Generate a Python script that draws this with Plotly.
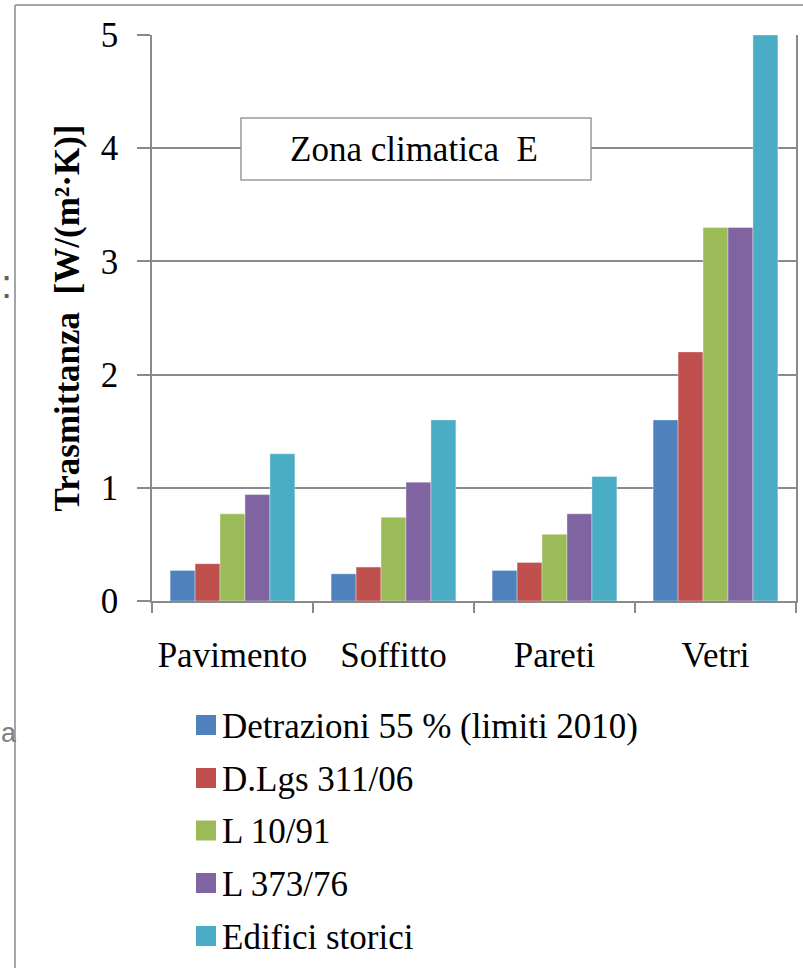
import plotly.graph_objects as go

# Thermal transmittance limits by building element, climate zone E
categories = ["Pavimento", "Soffitto", "Pareti", "Vetri"]
series_names = [
    "Detrazioni 55 % (limiti 2010)",
    "D.Lgs 311/06",
    "L 10/91",
    "L 373/76",
    "Edifici storici",
]
detrazioni_55 = [0.27, 0.24, 0.27, 1.6]
dlgs_311_06 = [0.33, 0.30, 0.34, 2.2]
legge_10_91 = [0.77, 0.74, 0.59, 3.3]
legge_373_76 = [0.94, 1.05, 0.77, 3.3]
edifici_storici = [1.3, 1.6, 1.1, 5.0]
y_ticks = [0, 1, 2, 3, 4, 5]

series_values = [detrazioni_55, dlgs_311_06, legge_10_91, legge_373_76, edifici_storici]
colors = ["#4F81BD", "#C0504D", "#9BBB59", "#8064A2", "#4BACC6"]

W, H = 803, 968
PL, PR, PT, PB = 152, 796, 35, 601  # plot-area edges in pixels
SERIF = "Liberation Serif, Times New Roman, serif"
SANS = "Liberation Sans, Arial, sans-serif"
GRID = "#8a8a8a"


def px(x):
    return (x - PL) / (PR - PL)


def py(y):
    return (PB - y) / (PB - PT)


fig = go.Figure()
for name, vals, col in zip(series_names, series_values, colors):
    fig.add_trace(go.Bar(
        x=categories, y=vals, name=name, showlegend=False,
        marker=dict(color=col, line=dict(color="rgba(255,255,255,0.35)", width=1)),
    ))

shapes = []
annotations = []

# outer frame (top and left edges)
shapes.append(dict(type="line", xref="paper", yref="paper",
                   x0=px(15), x1=px(15), y0=py(5), y1=py(H + 5),
                   line=dict(color="#a6a6a6", width=2), layer="above"))
shapes.append(dict(type="line", xref="paper", yref="paper",
                   x0=px(15), x1=px(W + 5), y0=py(5), y1=py(5),
                   line=dict(color="#a6a6a6", width=2), layer="above"))

# zone label box
shapes.append(dict(type="rect", xref="paper", yref="paper",
                   x0=px(241), x1=px(591), y0=py(180), y1=py(118),
                   fillcolor="white", line=dict(color="#9a9a9a", width=1.5), layer="above"))
annotations.append(dict(xref="paper", yref="paper", x=px(414), y=py(149),
                        text="Zona climatica\u00a0\u00a0E", showarrow=False,
                        xanchor="center", yanchor="middle",
                        font=dict(family=SERIF, size=35, color="black")))

# legend drawn below the chart
row_centers = [725, 778, 830.5, 883, 936]
for name, col, cy in zip(series_names, colors, row_centers):
    shapes.append(dict(type="rect", xref="paper", yref="paper",
                       x0=px(196), x1=px(216), y0=py(cy + 10), y1=py(cy - 10),
                       fillcolor=col, line=dict(color=col, width=0), layer="above"))
    annotations.append(dict(xref="paper", yref="paper", x=px(220), y=py(cy + 1),
                            text=name, showarrow=False, xanchor="left", yanchor="middle",
                            font=dict(family=SERIF, size=35, color="black")))

# fragments of surrounding text at the left edge
annotations.append(dict(xref="paper", yref="paper", x=px(0), y=py(733),
                        text="a", showarrow=False, xanchor="left", yanchor="middle",
                        borderpad=0,
                        font=dict(family=SANS, size=27, color="#7f7f7f")))
annotations.append(dict(xref="paper", yref="paper", x=px(0), y=py(284),
                        text=":", showarrow=False, xanchor="left", yanchor="middle",
                        borderpad=0,
                        font=dict(family=SANS, size=40, color="#606060")))

fig.update_layout(
    width=W, height=H,
    margin=dict(l=PL, r=W - PR, t=PT, b=H - PB, autoexpand=False),
    paper_bgcolor="white", plot_bgcolor="white",
    barmode="group", bargap=0.225, bargroupgap=0,
    font=dict(family=SERIF, size=34, color="black"),
    shapes=shapes, annotations=annotations,
    xaxis=dict(
        type="category", categoryorder="array", categoryarray=categories,
        showline=True, linecolor=GRID, linewidth=1.5,
        ticks="outside", tickson="boundaries", ticklen=10, tickcolor=GRID, tickwidth=1.5,
        ticklabelstandoff=22,
        tickfont=dict(family=SERIF, size=35, color="black"),
        showgrid=False, zeroline=False, automargin=False,
    ),
    yaxis=dict(
        range=[0, 5], tickvals=y_ticks,
        showline=True, linecolor=GRID, linewidth=1.5, mirror=True,
        ticks="outside", ticklen=13, tickcolor=GRID, tickwidth=1.5,
        ticklabelstandoff=12,
        showgrid=True, gridcolor=GRID, gridwidth=1.5, zeroline=False,
        tickfont=dict(family=SERIF, size=35, color="black"),
        title=dict(text="<b>Trasmittanza  [W/(m²·K)]</b>", standoff=11,
                   font=dict(family=SERIF, size=35, color="black")),
        automargin=False,
    ),
)

fig.write_html("out.html")
